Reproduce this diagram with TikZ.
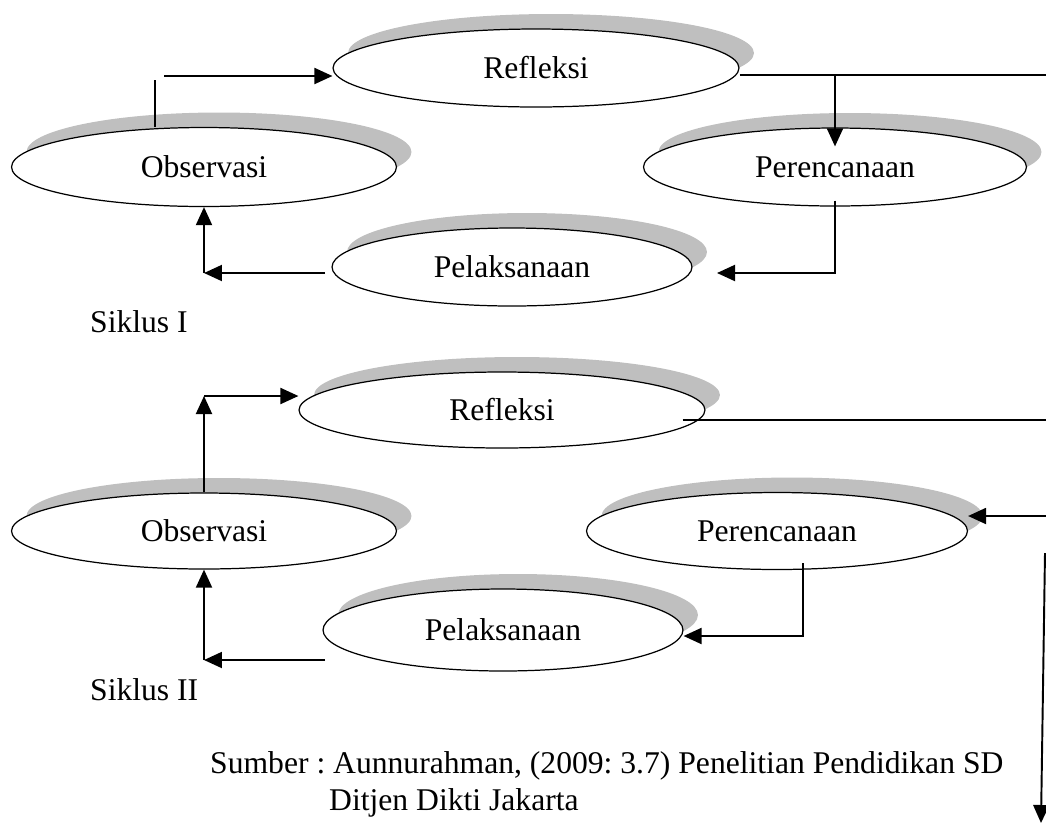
\documentclass[tikz,border=0pt]{standalone}
\usepackage{fontspec}
\setmainfont{Liberation Serif}
\usetikzlibrary{shapes.geometric, shadows, arrows.meta}
\definecolor{shadowgray}{HTML}{BFBFBF}
\frenchspacing

\begin{document}
\begin{tikzpicture}
    [x=0.02cm, y=-0.02cm,
     every node/.style={font=\fontsize{18}{22}\selectfont},
     stage/.style={ellipse, draw, line width=0.7pt, fill=white, inner sep=0pt,
                   general shadow={fill=shadowgray, shadow xshift=0.3cm, shadow yshift=0.3cm}},
     arr/.style={line width=1.1pt, -{Triangle[length=0.36cm, width=0.32cm]}},
     plain/.style={line width=0.7pt}]

    \useasboundingbox (0,0) rectangle (1046,823);

    % siklus I
    \node[stage, minimum width=8.12cm, minimum height=1.56cm] (ref1) at (536,68) {Refleksi};
    \node[stage, minimum width=7.70cm, minimum height=1.58cm] (obs1) at (204,167) {Observasi};
    \node[stage, minimum width=7.66cm, minimum height=1.56cm] (per1) at (835,167) {Perencanaan};
    \node[stage, minimum width=7.20cm, minimum height=1.56cm] (pel1) at (512,267) {Pelaksanaan};
    \node[anchor=base west] (sik1) at (84,332) {Siklus I};

    \coordinate (o1a) at (155,80);
    \coordinate (o1b) at (164,76);
    \coordinate (p1) at (325,273);
    \coordinate (r1) at (1046,75);
    \coordinate (q1) at (717,273);

    \draw[plain] (o1a) -- (o1a |- obs1.north);
    \draw[arr] (o1b) -- (ref1.west |- o1b);
    \draw[plain] (ref1.east |- r1) -- (r1);
    \draw[arr] (per1.north |- r1) -- ([yshift=-0.38cm]per1.north);
    \draw[arr] ([yshift=0.12cm]per1.south) |- (q1);
    \draw[arr] (p1) -- (p1 -| obs1.south);
    \draw[arr] (p1 -| obs1.south) -- (obs1.south);

    % siklus II
    \node[stage, minimum width=8.12cm, minimum height=1.52cm] (ref2) at (502,410) {Refleksi};
    \node[stage, minimum width=7.70cm, minimum height=1.52cm] (obs2) at (204,531) {Observasi};
    \node[stage, minimum width=7.62cm, minimum height=1.54cm] (per2) at (777,531) {Perencanaan};
    \node[stage, minimum width=7.20cm, minimum height=1.64cm] (pel2) at (503,630) {Pelaksanaan};
    \node[anchor=base west] (sik2) at (84,700) {Siklus II};

    \coordinate (o2) at (203,396);
    \coordinate (p2) at (325,660);
    \coordinate (r2) at (1046,420);
    \coordinate (r3) at (1046,516);
    \coordinate (q2) at (803,563);
    \coordinate (d1) at (1045,553);
    \coordinate (d2) at (1041,823);

    \draw[arr] (obs2.north) -- (obs2.north |- o2);
    \draw[arr] (obs2.north |- o2) -- (ref2.west |- o2);
    \draw[plain] ([xshift=-0.46cm]ref2.east |- r2) -- (r2);
    \draw[arr] (r3) -- (per2.east |- r3);
    \draw[arr] (q2) |- ([yshift=-0.12cm]pel2.east);
    \draw[arr] (p2) -- (p2 -| obs2.south);
    \draw[arr] (p2 -| obs2.south) -- (obs2.south);
    \draw[arr] (d1) -- (d2);

    % sumber
    \node[anchor=base west] (src1) at (204,773) {Sumber : Aunnurahman, (2009: 3.7) Penelitian Pendidikan SD};
    \node[anchor=base west] (src2) at (323,810) {Ditjen Dikti Jakarta};
\end{tikzpicture}
\end{document}
